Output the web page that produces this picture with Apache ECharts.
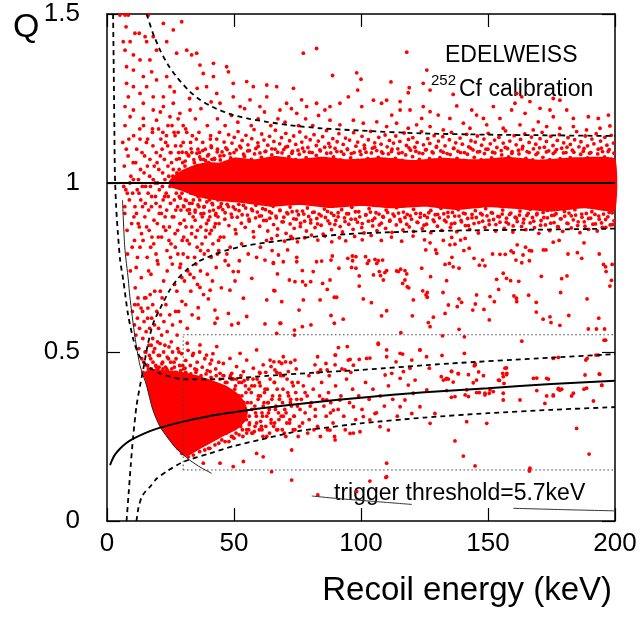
<!DOCTYPE html>
<html><head><meta charset="utf-8">
<script src="https://cdn.jsdelivr.net/npm/echarts@6/dist/echarts.min.js"></script>
<style>html,body{margin:0;padding:0;background:#fff}#c{width:640px;height:617px}</style>
</head><body><div id="c"></div><script>
// ---- axes ----
const xMin = 0, xMax = 200, xStep = 50;
const yMin = 0, yMax = 1.5, yStep = 0.5;

// ---- curves (E keV, Q) ----
const erUpper = [[15.6,1.5],[18,1.445],[20.9,1.393],[24,1.35],[27.4,1.314],[32,1.275],[36.6,1.246],[43,1.22],[49.7,1.201],[56,1.19],[62.9,1.181],[72,1.171],[84,1.162],[100,1.155],[123,1.147],[150,1.143],[175,1.141],[200,1.139]];
const erLower = [[7.7,0],[8.6,0.09],[9.4,0.17],[10.3,0.25],[11.6,0.34],[13.0,0.40],[14.3,0.45],[16.0,0.52],[18.2,0.585],[21,0.63],[24.7,0.683],[28,0.718],[31.3,0.743],[36,0.768],[41.8,0.787],[48,0.803],[55,0.815],[66.8,0.828],[80,0.840],[99.6,0.851],[135,0.859],[170,0.862],[200,0.865]];
const nrUpper = [[2.4,1.5],[2.6,1.37],[2.85,1.2],[3.1,1.03],[3.6,0.93],[4.3,0.85],[5.2,0.77],[6.4,0.713],[8.3,0.61],[10.4,0.536],[12.3,0.495],[14.3,0.471],[17,0.452],[20.8,0.437],[25,0.427],[30,0.419],[40,0.419],[50,0.422],[64,0.43],[80,0.438],[100,0.447],[135,0.466],[170,0.481],[200,0.494]];
const nrLower = [[11.6,0],[12.4,0.04],[13.6,0.07],[15.2,0.088],[16.8,0.10],[19.5,0.125],[23.4,0.146],[30,0.175],[40.5,0.20],[50,0.222],[60,0.24],[76,0.267],[84,0.274],[100,0.289],[125,0.306],[150,0.319],[175,0.329],[200,0.337]];
const nrMean = [[1.2,0.165],[2,0.18],[3,0.195],[5,0.213],[7.5,0.23],[10,0.242],[15,0.26],[20,0.274],[30,0.294],[40,0.31],[50,0.322],[60,0.333],[80,0.35],[100,0.365],[125,0.381],[150,0.393],[175,0.405],[200,0.415]];
const ionThr = [[6.1,0.95],[7,0.81],[8.4,0.713],[9,0.664],[11,0.545],[13,0.46],[15.6,0.40],[18,0.33],[20.8,0.28],[24,0.245],[27.4,0.214],[32.6,0.18],[37,0.158],[41.2,0.141]];
const boxV = [[30,0.151],[30,0.551]];
const boxTop = [[30,0.551],[200,0.551]];
const boxBot = [[30,0.151],[200,0.151]];
const trigA = [[80.6,0.074],[90,0.067],[100,0.061],[110,0.055],[120,0.049]];
const trigB = [[160,0.0376],[180,0.0335],[200,0.030]];
const erRef = [[0,1],[200,1]];

// ---- dense cores (outlines of solid red areas) ----
const erCore = [[24,1.0],[26,1.02],[30,1.04],[35,1.055],[40,1.062],[44,1.06],[50,1.075],[58,1.07],[66,1.08],[75,1.072],[85,1.078],[95,1.07],[108,1.076],[120,1.068],[132,1.075],[145,1.07],[158,1.077],[170,1.069],[185,1.076],[200,1.072],[200,0.918],[188,0.925],[175,0.915],[162,0.922],[150,0.928],[138,0.92],[125,0.93],[112,0.925],[100,0.932],[88,0.926],[76,0.935],[64,0.93],[54,0.94],[46,0.945],[40,0.952],[35,0.96],[30,0.975],[26,0.985]];
const nrCore = [[14.5,0.44],[18,0.45],[24,0.445],[30,0.44],[36,0.43],[42,0.415],[47,0.40],[51,0.38],[54,0.355],[55.5,0.325],[54.5,0.295],[51,0.27],[47,0.255],[42,0.235],[36,0.21],[31,0.19],[27.4,0.212],[24,0.245],[20.8,0.28],[18,0.33],[15.6,0.40]];

// ---- event dots (flat E,Q lists) ----
const erLowTop = [5.1,1.497,7.1,1.497,8.4,1.497,16.3,1.497,7.5,1.462,11.0,1.443,12.7,1.443,15.0,1.433,15.6,1.418,6.4,1.418,9.1,1.418,7.1,1.393,10.4,1.379,13.0,1.364,16.9,1.364,19.5,1.393,17.6,1.329,7.7,1.344,10.4,1.334,14.3,1.315,7.7,1.295,10.4,1.285,15.6,1.285,19.5,1.305,8.4,1.255,13.0,1.265,18.2,1.255,22.2,1.255,24.8,1.285,23.5,1.315,7.1,1.226,10.4,1.216,14.3,1.236,18.2,1.216,22.2,1.226,26.1,1.236,9.1,1.196,14.3,1.191,19.5,1.186,24.8,1.196,28.7,1.206,32.7,1.216];
const erMidTop = [29.4,1.477,22.2,1.472,26.1,1.453,18.2,1.433,23.5,1.418,27.4,1.384,31.4,1.393,33.3,1.379,35.3,1.384,36.6,1.349,41.9,1.354,47.1,1.344,47.8,1.329,41.9,1.315,37.9,1.324,49.7,1.295,55.0,1.300,57.6,1.285,62.9,1.290,66.8,1.285,73.4,1.280,77.3,1.384,82.5,1.398,76.6,1.246,70.7,1.236,62.9,1.255,56.3,1.246,49.7,1.255,43.2,1.265,39.2,1.285,68.1,1.216,74.7,1.206,78.6,1.226,82.5,1.236,60.2,1.226,52.4,1.226,44.5,1.236,46.5,1.17,49.0,1.20,51.5,1.18,54.2,1.22,56.8,1.17,59.5,1.19,62.0,1.21,64.5,1.17,67.3,1.19,70.1,1.18,72.6,1.22,75.4,1.17,78.2,1.19,81.0,1.17,83.3,1.20,30.0,1.17,32.5,1.25,34.8,1.19,37.0,1.22,39.5,1.17,41.0,1.24,43.5,1.19,26.5,1.27,28.0,1.19,24.0,1.17,21.0,1.21,35.5,1.28];
const erHighTop = [118.0,1.387,125.9,1.334,98.3,1.326,100.0,1.307,88.8,1.318,111.8,1.299,119.0,1.282,118.6,1.267,127.2,1.275,124.5,1.295,136.3,1.262,98.7,1.275,95.0,1.255,104.9,1.245,110.1,1.245,108.1,1.236,115.4,1.241,87.8,1.226,85.8,1.216,91.7,1.236,100.3,1.226,112.1,1.201,115.4,1.216,119.3,1.216,124.5,1.226,127.2,1.211,123.9,1.191,130.4,1.201,135.0,1.191,137.7,1.228,143.6,1.216,145.5,1.201,148.2,1.191,152.1,1.226,154.7,1.191,159.3,1.216,160.6,1.236,164.6,1.206,166.5,1.241,170.5,1.221,174.4,1.216,175.7,1.196,181.0,1.216,183.6,1.191,189.5,1.196,193.4,1.191,197.4,1.201,161.3,1.265,163.3,1.255,175.7,1.250,178.3,1.245,169.8,1.181,173.1,1.167,178.3,1.162,183.6,1.167,188.8,1.157,194.1,1.162,198.0,1.169,87.8,1.186,91.7,1.172,97.0,1.186,100.9,1.177,106.2,1.181,110.1,1.167,114.0,1.177,118.6,1.162,121.9,1.172,127.2,1.167,132.4,1.157,140.3,1.177,142.9,1.162,149.5,1.172,156.0,1.162,162.6,1.172,167.8,1.157];
const erLowMain = [6.2,1.12,6.8,1.05,7.4,0.98,7.0,0.91,7.9,0.86,7.1,1.17,8.3,1.08,8.8,0.95,9.4,1.02,8.1,0.79,9.7,0.88,9.2,0.74,10.5,1.14,10.1,0.97,10.8,0.83,11.3,1.06,11.6,0.91,11.1,0.69,12.4,1.01,12.0,0.78,12.7,0.87,12.9,1.16,13.3,0.95,13.8,1.09,13.5,0.72,14.2,0.83,14.6,1.03,14.9,0.90,15.3,0.66,15.5,1.12,15.8,0.78,16.2,0.97,16.6,0.86,16.9,1.07,17.3,0.73,17.5,0.93,17.9,1.15,18.2,1.01,18.4,0.82,18.8,0.68,19.1,0.96,19.4,1.09,19.8,0.88,20.1,0.76,20.4,1.04,20.9,0.93,21.2,1.13,21.5,0.84,21.8,0.99,22.3,0.71,22.6,1.07,22.9,0.90,23.3,0.97,23.6,0.80,23.9,1.11,24.3,1.02,24.6,0.87,25.0,0.94,25.4,1.06,25.7,0.76,26.1,0.99,26.4,1.15,26.8,0.85,27.1,0.92,27.5,1.03,27.9,0.79,28.2,1.09,28.5,0.96,28.9,0.88,29.3,1.01,29.6,0.83,30.0,1.12,30.3,0.93,30.7,1.05,31.1,0.87,31.4,0.98,31.8,0.78,32.2,1.08,32.5,0.91,32.9,1.02,33.3,0.85,33.6,1.14,34.0,0.95,34.4,1.06,34.7,0.89,35.1,0.99,35.5,0.81,35.8,1.10,36.2,0.93,36.6,1.03,36.9,0.87,37.3,0.97,37.7,1.12,38.1,0.91,38.4,1.04,38.8,0.84,39.2,0.99,39.6,1.08,39.9,0.89,40.3,0.95,40.7,1.13,41.1,0.86,41.5,1.01,41.9,0.92,42.3,1.07,42.7,0.88,43.1,0.97,43.5,1.10,43.9,0.83,44.3,1.03,44.7,0.93,
7.0,0.93,8.6,1.13,9.9,0.81,10.3,1.06,11.9,0.98,12.2,0.64,13.0,0.81,13.9,0.99,14.4,1.17,15.1,0.94,15.9,1.05,16.4,0.74,17.1,0.99,17.7,0.84,18.6,1.05,19.3,0.79,19.9,1.00,20.6,0.91,21.0,0.68,21.7,1.10,22.1,0.95,22.8,1.01,23.1,0.86,23.7,0.74,24.1,0.96,24.9,1.09,25.2,0.82,25.9,1.02,26.3,0.90,27.0,1.11,27.3,0.97,27.8,0.86,28.4,1.04,28.7,0.75,29.1,0.92,29.8,1.06,30.2,0.84,30.5,0.99,31.0,1.16,31.6,0.92,32.0,1.03,32.4,0.82,33.0,0.97,33.4,1.09,33.9,0.90,34.2,1.01,34.9,0.84,35.3,1.05,35.9,0.96,36.4,1.09,36.8,0.80,37.1,1.01,37.5,0.90,38.0,1.07,38.6,0.96,39.0,0.86,39.4,1.03,40.0,1.06,40.5,0.90,40.9,0.99,41.3,1.07,41.7,0.82,42.1,0.96,42.5,1.02,42.9,0.91,43.3,1.05,43.7,0.95,44.1,0.88,44.5,1.08,44.9,0.98,20.3,1.16,23.4,1.14,25.6,1.17,28.0,1.15,29.5,0.72,32.7,0.73,35.0,0.76,38.3,0.79,41.0,0.78,44.0,0.80,26.6,0.70,18.0,0.64,16.0,0.60,14.0,0.62,11.5,0.75,10.6,0.90,9.0,1.00,8.0,0.97,7.6,1.10,6.6,0.99];
const erLow2 = [10.4,1.01,11.0,0.93,11.7,1.10,12.3,0.88,12.6,0.97,13.2,1.04,13.6,0.85,14.0,0.93,14.8,1.08,15.2,0.99,15.6,0.87,16.0,1.13,16.4,0.92,16.8,1.02,17.2,0.81,17.6,0.96,18.1,1.11,18.5,0.89,18.9,1.00,19.3,0.94,19.7,1.06,20.2,0.84,20.6,0.98,21.0,1.08,21.4,0.91,21.9,1.03,22.3,0.87,22.7,0.96,23.1,1.12,23.5,0.92,24.0,1.05,24.4,0.83,24.8,0.99,25.2,1.09,25.7,0.90,26.1,1.04,26.5,0.95,26.9,0.81,27.4,1.07,27.8,0.93,28.2,1.00,28.7,0.88,29.1,1.11,29.5,0.97,29.9,1.03,30.4,0.89,30.8,0.95,31.2,1.09,31.6,0.83,32.1,1.00,32.5,0.94,32.9,1.12,33.4,0.87,33.8,1.04,34.3,0.98,34.7,0.92,35.2,1.13,35.6,0.86,36.0,1.01,36.5,0.95,36.9,1.07,37.4,0.82,37.8,0.99,38.3,0.93,38.7,1.10,39.2,0.88,39.6,0.96,40.1,1.02,40.5,0.85,41.0,1.11,41.4,0.94,41.9,1.04,42.3,0.87,42.8,0.98,43.2,1.13,43.7,0.90,44.1,1.01,44.6,0.84,45.0,0.96,13.0,1.13,17.9,1.16,22.0,1.15,26.8,1.14,31.4,1.15,36.2,1.15,40.8,1.14,44.3,1.15,19.8,0.77,25.0,0.78,30.0,0.79,34.5,0.78,39.8,0.80,43.5,0.79];
const hiFringe = [45.3,1.092,46.1,1.121,46.8,1.104,47.9,1.143,48.4,1.087,49.2,1.118,50.1,1.135,50.9,1.098,51.6,1.152,52.3,1.109,53.2,1.126,53.8,1.085,54.7,1.141,55.5,1.113,56.1,1.096,57.0,1.131,57.9,1.158,58.6,1.102,59.4,1.119,60.2,1.089,60.9,1.145,61.8,1.127,62.5,1.094,63.3,1.112,64.0,1.138,64.9,1.101,65.7,1.123,66.3,1.156,67.2,1.091,68.0,1.116,68.7,1.134,69.6,1.099,70.4,1.147,71.1,1.108,71.9,1.125,72.8,1.088,73.5,1.139,74.3,1.114,75.2,1.097,75.9,1.151,76.7,1.121,77.6,1.093,78.3,1.136,79.1,1.105,80.0,1.128,80.8,1.090,81.5,1.143,82.4,1.111,83.2,1.124,84.0,1.095,84.9,1.137,85.7,1.106,86.4,1.155,87.3,1.117,88.1,1.089,88.9,1.131,89.8,1.102,90.6,1.122,91.3,1.146,92.2,1.093,93.0,1.114,93.9,1.133,94.7,1.099,95.5,1.127,96.2,1.087,97.1,1.149,98.0,1.109,98.7,1.121,99.6,1.094,100.4,1.138,101.3,1.112,102.0,1.091,102.9,1.128,103.8,1.153,104.5,1.103,105.4,1.119,106.2,1.096,107.0,1.135,107.9,1.115,108.6,1.088,109.5,1.142,110.3,1.107,111.2,1.126,112.0,1.093,112.8,1.118,113.7,1.139,114.5,1.101,115.3,1.123,116.2,1.090,117.0,1.148,117.9,1.111,118.7,1.129,119.5,1.097,120.4,1.134,121.2,1.106,122.1,1.120,122.9,1.089,123.8,1.152,124.6,1.113,125.4,1.098,126.3,1.131,127.1,1.117,128.0,1.092,128.8,1.140,129.7,1.108,130.5,1.124,131.4,1.095,132.2,1.137,133.1,1.110,133.9,1.087,134.8,1.128,135.6,1.150,136.5,1.103,137.3,1.119,138.2,1.094,139.0,1.133,139.9,1.115,140.7,1.090,141.6,1.144,142.4,1.107,143.3,1.125,144.1,1.098,145.0,1.121,145.8,1.139,146.7,1.093,147.5,1.112,148.4,1.130,149.2,1.100,150.1,1.147,150.9,1.116,151.8,1.091,152.6,1.127,153.5,1.105,154.3,1.135,155.2,1.096,156.0,1.118,156.9,1.154,157.7,1.102,158.6,1.124,159.4,1.088,160.3,1.140,161.1,1.113,162.0,1.097,162.8,1.129,163.7,1.108,164.5,1.145,165.4,1.093,166.2,1.120,167.1,1.136,167.9,1.101,168.8,1.115,169.6,1.089,170.5,1.131,171.3,1.150,172.2,1.106,173.0,1.123,173.9,1.095,174.7,1.138,175.6,1.111,176.4,1.092,177.3,1.126,178.1,1.143,179.0,1.103,179.8,1.119,180.7,1.090,181.5,1.134,182.4,1.114,183.2,1.097,184.1,1.128,184.9,1.152,185.8,1.107,186.6,1.122,187.5,1.094,188.3,1.139,189.2,1.110,190.0,1.088,190.9,1.130,191.7,1.116,192.6,1.146,193.4,1.100,194.3,1.124,195.1,1.093,196.0,1.135,196.8,1.112,197.7,1.099,198.5,1.141,199.4,1.118];
const hiFringe2 = [28.5,1.072,29.6,1.091,30.8,1.065,31.9,1.083,33.1,1.101,34.2,1.069,35.4,1.088,36.5,1.077,37.7,1.096,38.8,1.066,40.0,1.084,41.1,1.105,42.3,1.073,43.4,1.092,44.6,1.068,46.0,1.081,47.3,1.099,48.7,1.074,50.0,1.090,51.4,1.067,52.7,1.104,54.1,1.079,55.4,1.095,56.8,1.070,58.1,1.086,59.5,1.108,60.8,1.076,62.2,1.093,63.5,1.068,64.9,1.083,66.2,1.100,67.6,1.073,68.9,1.089,70.3,1.106,71.6,1.078,73.0,1.094,74.3,1.069,75.7,1.085,77.0,1.103,78.4,1.075,79.7,1.091,81.1,1.066,82.4,1.082,83.8,1.098,85.1,1.071,86.5,1.088,87.8,1.107,89.2,1.077,90.5,1.093,91.9,1.068,93.2,1.085,94.6,1.101,95.9,1.074,97.3,1.090,98.6,1.067,100.0,1.084,101.4,1.102,102.7,1.072,104.1,1.089,105.4,1.106,106.8,1.076,108.1,1.092,109.5,1.069,110.8,1.086,112.2,1.100,113.5,1.073,114.9,1.088,116.2,1.067,117.6,1.083,118.9,1.104,120.3,1.078,121.6,1.094,123.0,1.070,124.3,1.087,125.7,1.099,127.0,1.072,128.4,1.089,129.7,1.106,131.1,1.075,132.4,1.091,133.8,1.068,135.1,1.084,136.5,1.102,137.8,1.073,139.2,1.090,140.5,1.067,141.9,1.085,143.2,1.103,144.6,1.076,145.9,1.092,147.3,1.069,148.6,1.087,150.0,1.100,151.4,1.074,152.7,1.089,154.1,1.066,155.4,1.083,156.8,1.105,158.1,1.077,159.5,1.093,160.8,1.070,162.2,1.086,163.5,1.101,164.9,1.073,166.2,1.090,167.6,1.068,168.9,1.084,170.3,1.104,171.6,1.076,173.0,1.092,174.3,1.069,175.7,1.087,177.0,1.099,178.4,1.072,179.7,1.089,181.1,1.106,182.4,1.075,183.8,1.091,185.1,1.067,186.5,1.085,187.8,1.102,189.2,1.074,190.5,1.090,191.9,1.068,193.2,1.086,194.6,1.103,195.9,1.077,197.3,1.093,198.6,1.070,199.6,1.088];
const loFringe = [45.6,0.921,46.4,0.893,47.3,0.937,48.0,0.874,48.9,0.908,49.7,0.929,50.5,0.862,51.3,0.899,52.0,0.918,52.9,0.881,53.7,0.934,54.4,0.869,55.3,0.905,56.0,0.887,56.9,0.923,57.6,0.856,58.5,0.897,59.2,0.914,60.1,0.872,60.8,0.903,61.7,0.889,62.4,0.921,63.3,0.858,64.1,0.896,64.8,0.911,65.6,0.877,66.5,0.902,67.2,0.864,68.1,0.918,68.9,0.885,69.6,0.899,70.5,0.851,71.2,0.909,72.1,0.879,72.9,0.915,73.7,0.866,74.5,0.893,75.4,0.906,76.1,0.871,77.0,0.917,77.8,0.887,78.5,0.858,79.4,0.901,80.2,0.882,81.0,0.913,81.9,0.868,82.6,0.895,83.5,0.908,84.3,0.875,85.1,0.849,86.0,0.898,86.8,0.916,87.7,0.880,88.4,0.862,89.3,0.904,90.1,0.889,91.0,0.912,91.8,0.871,92.7,0.855,93.5,0.897,94.4,0.909,95.2,0.878,96.1,0.893,96.9,0.863,97.8,0.915,98.6,0.884,99.5,0.900,100.3,0.868,101.2,0.852,102.0,0.906,102.9,0.887,103.7,0.914,104.6,0.873,105.4,0.896,106.3,0.859,107.1,0.908,108.0,0.881,108.8,0.899,109.7,0.866,110.5,0.913,111.4,0.890,112.2,0.854,113.1,0.902,113.9,0.876,114.8,0.911,115.6,0.886,116.5,0.861,117.3,0.898,118.2,0.907,119.0,0.870,119.9,0.893,120.7,0.857,121.6,0.910,122.4,0.883,123.3,0.899,124.1,0.865,125.0,0.904,125.8,0.878,126.7,0.912,127.5,0.853,128.4,0.891,129.2,0.906,130.1,0.872,130.9,0.897,131.8,0.860,132.6,0.909,133.5,0.885,134.3,0.900,135.2,0.869,136.0,0.913,136.9,0.881,137.7,0.856,138.6,0.902,139.4,0.889,140.3,0.911,141.1,0.874,142.0,0.895,142.8,0.863,143.7,0.907,144.5,0.880,145.4,0.898,146.2,0.852,147.1,0.910,147.9,0.887,148.8,0.869,149.6,0.903,150.5,0.877,151.3,0.912,152.2,0.892,153.0,0.858,153.9,0.901,154.7,0.884,155.6,0.908,156.4,0.866,157.3,0.896,158.1,0.879,159.0,0.911,159.8,0.855,160.7,0.899,161.5,0.886,162.4,0.905,163.2,0.871,164.1,0.893,164.9,0.862,165.8,0.910,166.6,0.882,167.5,0.898,168.3,0.868,169.2,0.906,170.0,0.851,170.9,0.889,171.7,0.913,172.6,0.876,173.4,0.897,174.3,0.859,175.1,0.904,176.0,0.883,176.8,0.909,177.7,0.870,178.5,0.894,179.4,0.857,180.2,0.902,181.1,0.881,181.9,0.911,182.8,0.867,183.6,0.891,184.5,0.905,185.3,0.874,186.2,0.853,187.0,0.899,187.9,0.885,188.7,0.910,189.6,0.863,190.4,0.896,191.3,0.878,192.1,0.907,193.0,0.858,193.8,0.893,194.7,0.882,195.5,0.908,196.4,0.869,197.2,0.900,198.1,0.876,198.9,0.912,199.6,0.888,
64.8,0.835,67.0,0.845,69.9,0.828,72.4,0.842,75.0,0.826,77.8,0.838,80.5,0.846,83.0,0.831,85.8,0.843,88.5,0.826,91.5,0.838,94.0,0.829,97.5,0.842,100.5,0.832,104.0,0.845,108.0,0.83,112.0,0.84,116.0,0.828,120.5,0.843,125.0,0.832,46.0,0.84,48.5,0.81,50.8,0.85,53.0,0.82,55.6,0.79,57.8,0.84,60.4,0.81,62.8,0.83,65.0,0.80,47.2,0.79,52.1,0.77,58.9,0.78];
const loFringe2 = [28.9,0.955,30.1,0.932,31.2,0.948,32.4,0.921,33.5,0.940,34.7,0.914,35.8,0.935,37.0,0.909,38.1,0.929,39.3,0.944,40.4,0.917,41.6,0.936,42.7,0.905,43.9,0.927,45.0,0.939,46.5,0.912,47.8,0.930,49.2,0.899,50.5,0.922,51.9,0.937,53.2,0.906,54.6,0.926,55.9,0.893,57.3,0.918,58.6,0.934,60.0,0.902,61.3,0.924,62.7,0.889,64.0,0.915,65.4,0.931,66.7,0.897,68.1,0.920,69.4,0.885,70.8,0.912,72.1,0.929,73.5,0.894,74.8,0.917,76.2,0.881,77.5,0.908,78.9,0.926,80.2,0.891,81.6,0.914,82.9,0.879,84.3,0.903,85.6,0.923,87.0,0.888,88.3,0.911,89.7,0.877,91.0,0.900,92.4,0.921,93.7,0.886,95.1,0.909,96.4,0.928,97.8,0.893,99.1,0.915,100.5,0.880,101.8,0.905,103.2,0.924,104.5,0.889,105.9,0.912,107.2,0.876,108.6,0.901,109.9,0.920,111.3,0.887,112.6,0.908,114.0,0.927,115.3,0.892,116.7,0.914,118.0,0.878,119.4,0.903,120.7,0.922,122.1,0.884,123.4,0.910,124.8,0.875,126.1,0.898,127.5,0.919,128.8,0.886,130.2,0.907,131.5,0.925,132.9,0.890,134.2,0.913,135.6,0.879,136.9,0.902,138.3,0.921,139.6,0.885,141.0,0.909,142.3,0.874,143.7,0.897,145.0,0.918,146.4,0.883,147.7,0.906,149.1,0.924,150.4,0.889,151.8,0.911,153.1,0.877,154.5,0.900,155.8,0.920,157.2,0.884,158.5,0.907,159.9,0.873,161.2,0.896,162.6,0.917,163.9,0.882,165.3,0.904,166.6,0.922,168.0,0.887,169.3,0.910,170.7,0.875,172.0,0.898,173.4,0.919,174.7,0.881,176.1,0.905,177.4,0.871,178.8,0.894,180.1,0.916,181.5,0.880,182.8,0.903,184.2,0.921,185.5,0.885,186.9,0.908,188.2,0.872,189.6,0.895,190.9,0.915,192.3,0.879,193.6,0.902,195.0,0.869,196.3,0.892,197.7,0.913,199.0,0.877];
const gapLeft = [47.8,0.757,49.7,0.738,51.7,0.738,57.0,0.718,62.2,0.772,65.5,0.762,36.6,0.691,40.6,0.683,39.9,0.657,48.4,0.683,50.4,0.710,53.7,0.659,62.9,0.654,66.1,0.681,35.9,0.631,42.5,0.624,47.8,0.614,43.4,0.600,42.5,0.585,49.1,0.580,51.7,0.585,55.0,0.605,62.2,0.583,68.1,0.585,31.6,0.570,66.8,0.555,
29.0,0.76,30.5,0.71,31.8,0.74,33.0,0.68,34.2,0.72,35.6,0.70,36.8,0.74,38.0,0.67,39.5,0.73,41.5,0.71,43.0,0.75,45.0,0.69,46.5,0.77,31.0,0.64,33.5,0.61,27.5,0.68,28.2,0.62,36.0,0.60,
31.6,0.526,34.0,0.496,36.6,0.521,39.2,0.491,41.2,0.476,43.2,0.516,45.8,0.466,48.4,0.481,51.0,0.457,52.4,0.496,55.0,0.476,57.6,0.452,58.9,0.506,61.5,0.462,64.2,0.476,66.1,0.447,68.8,0.466,71.4,0.442,74.0,0.476,30.7,0.452,35.3,0.447,40.6,0.442,44.5,0.437,49.1,0.437,53.7,0.442,60.2,0.437,68.1,0.437];
const gapMid = [65.5,0.764,67.5,0.787,69.4,0.767,67.1,0.731,65.7,0.682,68.8,0.649,68.4,0.585,71.1,0.802,73.1,0.836,74.7,0.780,74.7,0.767,74.0,0.708,71.8,0.713,76.9,0.741,77.0,0.708,77.3,0.654,78.2,0.698,75.6,0.624,76.9,0.575,73.8,0.565,73.8,0.550,80.2,0.708,80.3,0.580,81.2,0.738,82.5,0.767,84.5,0.769,83.9,0.654,84.9,0.703,86.7,0.685,88.2,0.772,88.7,0.784,87.8,0.713,88.2,0.608,89.5,0.585,89.5,0.662,90.4,0.662,91.3,0.748,93.0,0.597,94.8,0.777,96.6,0.784,96.7,0.770,98.0,0.782,96.3,0.750,98.0,0.748,99.3,0.725,99.3,0.695,101.8,0.782,102.5,0.762,103.1,0.770,100.9,0.657,104.1,0.646,105.5,0.774,106.2,0.762,106.8,0.770,107.2,0.738,107.7,0.726,104.9,0.728,109.4,0.735,110.1,0.741,108.5,0.772,108.8,0.713,108.1,0.607,110.1,0.622,114.0,0.740,114.7,0.738,115.6,0.745,116.4,0.703,117.3,0.713,118.2,0.693,117.3,0.741,118.0,0.731,115.7,0.557,118.8,0.690,120.6,0.654,120.2,0.607,123.9,0.748,124.3,0.681,125.6,0.669,126.1,0.676,126.1,0.662,127.4,0.723,125.5,0.802,129.4,0.802,129.8,0.792,128.5,0.603,126.5,0.587,127.2,0.575,127.2,0.823,
69.4,0.486,65.7,0.471,67.8,0.471,70.3,0.471,72.3,0.469,64.6,0.457,81.9,0.462,82.9,0.486,84.1,0.447,86.2,0.466,86.7,0.447,91.1,0.513,94.6,0.516,90.0,0.491,89.8,0.462,95.7,0.478,93.7,0.447,99.3,0.478,103.5,0.482,106.8,0.523,110.1,0.486,113.8,0.471,116.4,0.494,120.0,0.476,123.2,0.506,125.8,0.486,126.9,0.452];
const gapHigh = [132.4,0.830,135.7,0.839,137.0,0.819,135.0,0.817,139.2,0.831,141.0,0.836,140.5,0.800,142.6,0.807,133.1,0.759,134.8,0.762,136.3,0.752,138.6,0.748,135.8,0.780,144.5,0.777,146.6,0.757,147.9,0.772,148.8,0.755,151.8,0.790,154.7,0.789,156.8,0.789,159.1,0.799,160.0,0.794,161.5,0.817,161.0,0.772,163.3,0.764,163.8,0.787,164.8,0.810,166.3,0.800,167.2,0.799,166.3,0.770,171.8,0.802,172.8,0.802,175.7,0.825,178.0,0.830,181.5,0.790,185.2,0.794,186.9,0.777,187.8,0.823,193.8,0.790,195.5,0.759,196.3,0.752,196.5,0.738,198.9,0.759,133.7,0.711,132.3,0.676,133.1,0.614,134.4,0.639,137.9,0.634,138.6,0.657,139.6,0.647,144.0,0.624,145.0,0.642,145.5,0.669,148.4,0.626,150.8,0.664,152.5,0.649,150.5,0.595,153.4,0.715,154.2,0.685,156.0,0.733,157.3,0.718,158.9,0.711,162.1,0.709,160.2,0.666,161.2,0.659,161.3,0.649,166.0,0.668,169.0,0.647,169.0,0.618,171.0,0.724,171.7,0.597,174.4,0.604,174.8,0.587,178.3,0.579,178.6,0.676,179.0,0.717,181.1,0.725,181.8,0.608,189.0,0.657,189.5,0.568,192.7,0.568,193.6,0.600,195.9,0.568,195.7,0.535,196.3,0.535,198.0,0.695,198.6,0.712,132.1,0.548,138.6,0.567,163.3,0.532,140.7,0.545,140.7,0.496,131.9,0.490,144.9,0.465,144.6,0.459,146.3,0.441,148.2,0.430,135.6,0.443,131.6,0.427,133.5,0.420,134.4,0.420,136.3,0.411,138.3,0.435,142.3,0.433,144.2,0.409,154.5,0.416,156.3,0.407,157.3,0.433,157.3,0.453,155.8,0.437,169.2,0.423,173.8,0.420,177.7,0.484,188.5,0.476,189.0,0.481,192.5,0.491,194.0,0.434,194.8,0.401,187.8,0.390,133.7,0.386,135.6,0.366,137.0,0.368,142.3,0.368,145.5,0.380,146.6,0.380,148.8,0.373,150.5,0.378,152.1,0.383,156.0,0.378,169.2,0.386,173.1,0.370,175.7,0.370,177.7,0.390,179.0,0.390,182.9,0.370,183.6,0.378,188.8,0.393];
const lowLeft = [10.0,0.62,10.8,0.58,10.9,0.64,11.4,0.55,12.0,0.60,12.5,0.51,12.8,0.57,13.4,0.63,13.7,0.48,14.1,0.54,14.6,0.59,15.0,0.50,15.4,0.56,15.7,0.46,16.1,0.63,16.5,0.52,16.8,0.57,17.2,0.48,17.6,0.60,18.0,0.54,18.3,0.50,18.7,0.58,19.2,0.46,19.6,0.62,19.9,0.53,20.3,0.57,20.7,0.49,21.1,0.61,21.5,0.55,21.9,0.47,22.4,0.59,22.8,0.52,23.2,0.64,23.7,0.56,24.2,0.48,24.7,0.61,25.3,0.53,25.8,0.58,26.4,0.47,27.0,0.62,27.6,0.55,28.3,0.50,28.9,0.59,29.5,0.65,14.8,0.66,17.0,0.67,21.7,0.66,12.2,0.66,14.2,0.44,16.3,0.45,20.0,0.45,23.5,0.45,26.8,0.44,29.8,0.46];
const nrTop = [14.5,0.47,15.3,0.50,16.0,0.46,16.7,0.49,17.4,0.52,18.1,0.47,18.8,0.51,19.5,0.455,20.2,0.49,20.9,0.525,21.6,0.465,22.3,0.50,23.0,0.455,23.7,0.485,24.4,0.515,25.1,0.47,25.8,0.50,26.5,0.455,27.2,0.48,27.9,0.51,28.6,0.46,29.4,0.495,30.2,0.45,31.0,0.475,31.9,0.505,32.8,0.46,33.7,0.49,34.6,0.45,35.5,0.47,36.5,0.50,37.5,0.455,38.5,0.48,39.5,0.445,40.6,0.465,41.7,0.495,42.8,0.45,44.0,0.47];
const nrDense = [44.5,0.39,45.2,0.33,45.9,0.27,46.6,0.41,47.3,0.36,47.9,0.30,48.6,0.43,49.3,0.25,50.0,0.34,50.6,0.40,51.3,0.29,52.0,0.37,52.7,0.43,53.3,0.27,54.0,0.32,54.7,0.38,55.4,0.42,56.1,0.29,56.7,0.35,57.4,0.26,58.1,0.40,58.8,0.31,59.5,0.36,60.1,0.44,60.8,0.28,61.5,0.34,62.2,0.39,62.9,0.25,63.6,0.32,64.2,0.42,64.9,0.36,65.6,0.28,66.3,0.33,67.0,0.39,67.7,0.30,68.4,0.43,69.1,0.35,69.8,0.26,70.5,0.32,71.2,0.38,71.9,0.29,72.6,0.34,73.3,0.40,74.0,0.27,74.7,0.36,45.7,0.43,46.9,0.38,48.2,0.32,49.0,0.28,49.8,0.42,51.0,0.35,51.9,0.31,53.0,0.41,53.9,0.35,55.0,0.27,55.9,0.39,57.0,0.33,58.3,0.28,59.1,0.42,60.4,0.37,61.2,0.31,62.5,0.44,63.3,0.35,64.6,0.29,65.9,0.41,66.8,0.27,68.0,0.37,69.4,0.31,70.9,0.42,72.3,0.36,73.7,0.31,75.2,0.41,76.0,0.33,78.0,0.38,80.0,0.34,82.0,0.31,85.0,0.36,88.0,0.32];
const nrTail = [46.0,0.43,47.2,0.41,48.1,0.38,49.0,0.42,50.3,0.39,51.2,0.36,52.0,0.41,53.1,0.37,53.8,0.33,54.5,0.40,55.3,0.35,56.0,0.31,56.8,0.38,57.5,0.42,58.2,0.34,58.9,0.29,59.6,0.37,60.3,0.40,61.0,0.32,61.8,0.35,62.5,0.28,63.1,0.39,63.9,0.33,64.6,0.30,65.2,0.37,65.9,0.41,66.5,0.34,67.2,0.27,67.9,0.36,68.6,0.31,69.3,0.39,70.0,0.33,70.8,0.29,71.5,0.37,72.2,0.35,72.9,0.41,73.6,0.31,74.3,0.38,75.0,0.34,75.8,0.28,76.5,0.36,77.3,0.40,78.0,0.32,78.8,0.37,79.6,0.30,80.4,0.35,81.2,0.39,82.0,0.33,82.9,0.28,83.7,0.37,84.5,0.41,85.4,0.34,86.3,0.31,87.2,0.38,88.1,0.35,89.0,0.29,90.0,0.40,91.0,0.33,92.1,0.37,93.2,0.31,94.3,0.42,95.5,0.35,96.7,0.39,97.9,0.30,99.1,0.37,100.4,0.33,101.8,0.41,103.2,0.36,104.7,0.39,106.1,0.32,107.6,0.37,109.2,0.34,110.8,0.40,112.5,0.36,114.3,0.31,
45.5,0.36,46.6,0.31,47.7,0.27,48.6,0.34,49.5,0.29,50.8,0.26,51.7,0.32,52.6,0.28,53.5,0.25,54.9,0.30,55.8,0.27,57.0,0.26,58.5,0.32,60.0,0.27,61.4,0.25,62.9,0.31,64.0,0.26,66.0,0.29,67.5,0.32,69.0,0.27,70.4,0.25,72.0,0.30,73.3,0.27,75.3,0.25,77.0,0.29,79.0,0.26,81.5,0.27,84.0,0.25,86.8,0.27,89.6,0.25,93.8,0.27,97.0,0.26,45.2,0.24,48.0,0.235,50.0,0.245,
66.8,0.44,69.5,0.43,74.5,0.45,79.5,0.43,83.0,0.44,87.5,0.43,92.5,0.45,96.0,0.44,
15.0,0.43,16.2,0.44,17.5,0.45,19.0,0.44,20.5,0.455,22.0,0.45,23.8,0.445,25.5,0.45,27.3,0.44,29.0,0.445,31.0,0.44,33.0,0.435,35.0,0.44,37.0,0.43,39.0,0.435,41.0,0.425,43.0,0.43,44.5,0.42,32.0,0.19,34.0,0.195,36.5,0.205,38.5,0.21,40.0,0.215,42.5,0.225,44.0,0.23,46.5,0.235,29.5,0.20,28.0,0.215,49.0,0.25,52.0,0.255,55.0,0.26,58.0,0.265,61.0,0.27,47.0,0.26,56.0,0.285,60.5,0.295,63.5,0.35,62.0,0.38,60.0,0.41,57.0,0.40,54.0,0.415,51.0,0.42,48.5,0.425];
const nrFar = [89.8,0.491,97.0,0.461,95.0,0.476,102.2,0.481,106.8,0.526,110.1,0.506,115.4,0.496,109.5,0.432,112.1,0.437,115.4,0.422,116.7,0.442,119.3,0.452,123.2,0.506,118.6,0.402,121.3,0.417,120.6,0.378,117.3,0.358,115.4,0.338,123.2,0.338,120.0,0.318,125.9,0.388,129.1,0.318,127.2,0.289,132.4,0.417,133.7,0.422,135.7,0.442,138.3,0.437,141.6,0.388,141.0,0.373,144.9,0.461,145.5,0.417,148.8,0.378,150.8,0.388,154.1,0.417,156.0,0.427,156.7,0.452,157.4,0.437,156.0,0.358,149.5,0.289,141.6,0.294,137.0,0.237,140.3,0.192,144.9,0.163,162.6,0.358,166.5,0.156,167.9,0.422,173.1,0.422,177.7,0.392,178.3,0.387,175.7,0.373,172.4,0.348,184.9,0.274,188.2,0.432,191.5,0.355,193.8,0.435,194.8,0.402,189.8,0.198,193.4,0.491,175.7,0.481,110.1,0.171,110.1,0.131,103.5,0.118,98.3,0.087,83.0,0.077,109.8,0.129,166.3,0.148,110.8,0.269,107.5,0.279,100.9,0.309,105.5,0.318,97.0,0.338,91.7,0.358,89.1,0.328,86.5,0.358,87.8,0.269,89.8,0.240,95.7,0.259,99.6,0.264,103.5,0.299,
40.5,0.215,49.7,0.161,53.7,0.176,58.9,0.200,64.8,0.146,72.7,0.210,72.7,0.121,61.5,0.190,44.5,0.171,37.9,0.171];

function pairs(a){const r=[];for(let i=0;i<a.length;i+=2)r.push([a[i],a[i+1]]);return r;}
const dots = [].concat(pairs(erLowTop),pairs(erMidTop),pairs(erHighTop),pairs(erLowMain),pairs(erLow2),pairs(hiFringe),pairs(hiFringe2),pairs(loFringe),pairs(loFringe2),pairs(gapLeft),pairs(gapMid),pairs(gapHigh),pairs(lowLeft),pairs(nrTop),pairs(nrDense),pairs(nrTail),pairs(nrFar));

const FONT = '"Liberation Sans", Arial, sans-serif';
const chart = echarts.init(document.getElementById('c'), null, {renderer:'canvas'});

function polySeries(poly){
  return {type:'custom', z:1, silent:true, data:[[poly[0][0],poly[0][1]]],
    renderItem:(params, api)=>({type:'polygon', shape:{points:poly.map(p=>api.coord(p)), smooth:0.15}, style:{fill:'#ff0000'}})};
}
function lineSeries(data, style, z){
  return {type:'line', data:data, showSymbol:false, symbol:'none', smooth:0.25, z:z||4, silent:true,
    lineStyle:Object.assign({color:'#000', width:1.8}, style)};
}
const axisLine = {show:true, onZero:false, lineStyle:{color:'#000', width:1.5}};
const tick = {show:true, inside:true, length:13, lineStyle:{color:'#000', width:1.2}};

chart.setOption({
  animation:false,
  backgroundColor:'#fff',
  grid:{left:107, right:25, top:14, bottom:96, containLabel:false},
  xAxis:[
    {type:'value', min:xMin, max:xMax, interval:xStep, position:'bottom', axisLine:axisLine, axisTick:tick,
     axisLabel:{fontSize:26, color:'#000', fontFamily:FONT, margin:10}, splitLine:{show:false}},
    {type:'value', min:xMin, max:xMax, interval:xStep, position:'top', axisLine:axisLine, axisTick:tick,
     axisLabel:{show:false}, splitLine:{show:false}}
  ],
  yAxis:[
    {type:'value', min:yMin, max:yMax, interval:yStep, position:'left', axisLine:axisLine, axisTick:tick,
     axisLabel:{fontSize:26, color:'#000', fontFamily:FONT, margin:27}, splitLine:{show:false}},
    {type:'value', min:yMin, max:yMax, interval:yStep, position:'right', axisLine:axisLine, axisTick:tick,
     axisLabel:{show:false}, splitLine:{show:false}}
  ],
  series:[
    polySeries(erCore),
    polySeries(nrCore),
    {type:'scatter', data:dots, symbol:'circle', symbolSize:3.8, z:2, silent:true,
     itemStyle:{color:'#ff0000', opacity:1}},
    lineSeries(ionThr, {width:1, color:'#222'}, 3),
    lineSeries(trigA, {width:1, color:'#333'}, 3),
    lineSeries(trigB, {width:1, color:'#333'}, 3),
    lineSeries(boxV, {width:1, color:'#444', type:[1.5,2.5]}, 3),
    lineSeries(boxTop, {width:1, color:'#444', type:[1.5,2.5]}, 3),
    lineSeries(boxBot, {width:1, color:'#444', type:[1.5,2.5]}, 3),
    lineSeries(erRef, {width:2}),
    lineSeries(nrMean, {width:2}),
    lineSeries(erUpper, {type:[5,4]}),
    lineSeries(erLower, {type:[5,4]}),
    lineSeries(nrUpper, {type:[5,4]}),
    lineSeries(nrLower, {type:[5,4]})
  ],
  graphic:[
    {type:'text', x:13, y:28, style:{text:'Q', font:'34px '+FONT, fill:'#000', textVerticalAlign:'middle', verticalAlign:'middle'}},
    {type:'text', x:445, y:56, style:{text:'EDELWEISS', font:'23px '+FONT, fill:'#000', textVerticalAlign:'middle', verticalAlign:'middle'}},
    {type:'text', x:431, y:81, style:{text:'252', font:'15px '+FONT, fill:'#000', textVerticalAlign:'middle', verticalAlign:'middle'}},
    {type:'text', x:459, y:90, style:{text:'Cf calibration', font:'23px '+FONT, fill:'#000', textVerticalAlign:'middle', verticalAlign:'middle'}},
    {type:'text', x:334, y:494, style:{text:'trigger threshold=5.7keV', font:'23px '+FONT, fill:'#000', textVerticalAlign:'middle', verticalAlign:'middle'}},
    {type:'text', x:612, y:591, style:{text:'Recoil energy (keV)', font:'33px '+FONT, fill:'#000', textAlign:'right', align:'right', textVerticalAlign:'middle', verticalAlign:'middle'}}
  ]
});
</script></body></html>
